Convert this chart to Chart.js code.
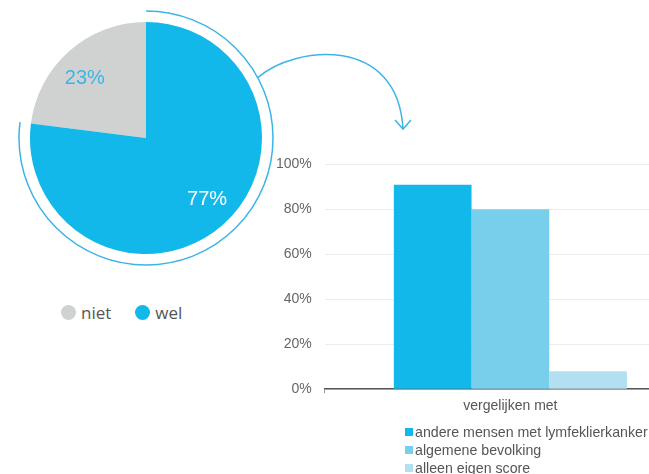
<!DOCTYPE html>
<html>
<head>
<meta charset="utf-8">
<script src="https://cdn.jsdelivr.net/npm/chart.js@4"></script>
<style>
    html, body { margin: 0; padding: 0; background: #fff; overflow: hidden; width: 649px; height: 474px; }
    body { position: relative; font-family: "Liberation Sans", Arial, sans-serif; }
    #pieBox { position: absolute; left: 0; top: 0; width: 430px; height: 276px; }
    #barBox { position: absolute; left: 263px; top: 143px; width: 433px; height: 277px; }
    #pieLegend { position: absolute; left: 61px; top: 301px; display: flex; gap: 24px; font-family: "Open Sans", sans-serif; font-size: 17px; color: #555; }
    #pieLegend .item { display: flex; align-items: center; height: 22px; }
    #pieLegend .dot { width: 15px; height: 15px; border-radius: 50%; margin-right: 5px; }
    #barLegend { position: absolute; left: 405px; top: 423px; font-size: 14.2px; color: #555; white-space: nowrap; }
    #barLegend .item { display: flex; align-items: center; height: 18px; }
    #barLegend .sq { width: 8px; height: 8px; margin-right: 2px; }
</style>
</head>
<body>
<div id="pieBox"><canvas id="pieChart"></canvas></div>
<div id="pieLegend"></div>
<div id="barBox"><canvas id="barChart"></canvas></div>
<div id="barLegend"></div>
<script>
const pieLabels = ["niet", "wel"];
const pieValues = [23, 77];
const pieColors = ["#d0d2d2", "#13b8eb"];

const barCategories = ["vergelijken met"];
const groupNames = ["andere mensen met lymfeklierkanker", "algemene bevolking", "alleen eigen score"];
const groupValues = [91, 80, 8];
const groupColors = ["#13b8eb", "#77cfeb", "#b3e0f0"];
const yTicks = [0, 20, 40, 60, 80, 100];

const accent = "#3cb4e6";
const fontFamily = "'Liberation Sans', Arial, sans-serif";

// percentages inside the slices
const sliceLabels = {
    id: "sliceLabels",
    afterDatasetsDraw(chart) {
        const ctx = chart.ctx;
        const meta = chart.getDatasetMeta(0);
        const textColors = [accent, "#ffffff"];
        ctx.save();
        ctx.font = "20px " + fontFamily;
        ctx.textAlign = "center";
        ctx.textBaseline = "middle";
        meta.data.forEach((arc, i) => {
            // labels sit a little before the middle of each slice
            const mid = (arc.startAngle + arc.endAngle) / 2 - 4 * Math.PI / 180;
            const r = arc.outerRadius * 0.74;
            ctx.fillStyle = textColors[i];
            ctx.fillText(pieValues[i] + "%", arc.x + Math.cos(mid) * r, arc.y + Math.sin(mid) * r + 1);
        });
        ctx.restore();
    }
};

// ring around the "wel" slice and the arrow towards the bars
const ringAndArrow = {
    id: "ringAndArrow",
    afterDraw(chart) {
        const ctx = chart.ctx;
        const arc = chart.getDatasetMeta(0).data[1];
        const cx = arc.x, cy = arc.y;
        const R = arc.outerRadius + 11;
        ctx.save();
        ctx.strokeStyle = accent;
        ctx.lineWidth = 1.5;
        ctx.beginPath();
        ctx.arc(cx, cy, R, arc.startAngle, arc.endAngle);
        ctx.stroke();

        const a = -28.4 * Math.PI / 180;
        const sx = cx + Math.cos(a) * R, sy = cy + Math.sin(a) * R;
        const ex = cx + 257, ey = cy - 9;
        ctx.beginPath();
        ctx.moveTo(sx, sy);
        ctx.bezierCurveTo(cx + 149, cy - 93, cx + 252, cy - 103, ex, ey);
        ctx.stroke();
        ctx.beginPath();
        ctx.moveTo(ex - 8, ey - 9);
        ctx.lineTo(ex, ey);
        ctx.lineTo(ex + 8, ey - 9);
        ctx.stroke();
        ctx.restore();
    }
};

function buildLegend(chart, el, markClass) {
    const items = chart.options.plugins.legend.labels.generateLabels(chart);
    el.innerHTML = "";
    items.forEach(item => {
        const row = document.createElement("div");
        const mark = document.createElement("span");
        mark.className = markClass;
        mark.style.background = item.fillStyle;
        row.className = "item";
        row.appendChild(mark);
        row.appendChild(document.createTextNode(item.text));
        el.appendChild(row);
    });
}

const pieChart = new Chart(document.getElementById("pieChart"), {
    type: "pie",
    data: {
        labels: pieLabels,
        datasets: [{
            data: pieValues,
            backgroundColor: pieColors,
            borderWidth: 0
        }]
    },
    options: {
        responsive: true,
        maintainAspectRatio: false,
        animation: false,
        rotation: pieValues[1] / 100 * 360,
        layout: { padding: { left: 30, right: 168, top: 22, bottom: 22 } },
        plugins: {
            legend: { display: false },
            tooltip: { enabled: false }
        }
    },
    plugins: [sliceLabels, ringAndArrow]
});
buildLegend(pieChart, document.getElementById("pieLegend"), "dot");

const barChart = new Chart(document.getElementById("barChart"), {
    type: "bar",
    data: {
        labels: barCategories,
        datasets: groupNames.map((name, i) => ({
            label: name,
            data: [groupValues[i]],
            backgroundColor: groupColors[i],
            borderWidth: 0,
            barPercentage: 1.0,
            categoryPercentage: 0.628
        }))
    },
    options: {
        responsive: true,
        maintainAspectRatio: false,
        animation: false,
        layout: { padding: 0 },
        plugins: {
            legend: { display: false },
            tooltip: { enabled: false }
        },
        scales: {
            x: {
                grid: { display: true, drawOnChartArea: false, tickLength: 4, color: "#999" },
                border: { display: true, color: "#555", width: 1.5 },
                ticks: { color: "#555", font: { size: 14, family: fontFamily }, padding: 5 }
            },
            y: {
                min: 0,
                max: 100,
                afterBuildTicks: axis => { axis.ticks = yTicks.map(v => ({ value: v })); },
                grid: { color: "#ececec", drawTicks: false },
                border: { display: false },
                ticks: {
                    color: "#666",
                    padding: 13,
                    font: { size: 14, family: fontFamily },
                    callback: v => v + "%"
                }
            }
        }
    }
});
buildLegend(barChart, document.getElementById("barLegend"), "sq");
</script>
</body>
</html>
